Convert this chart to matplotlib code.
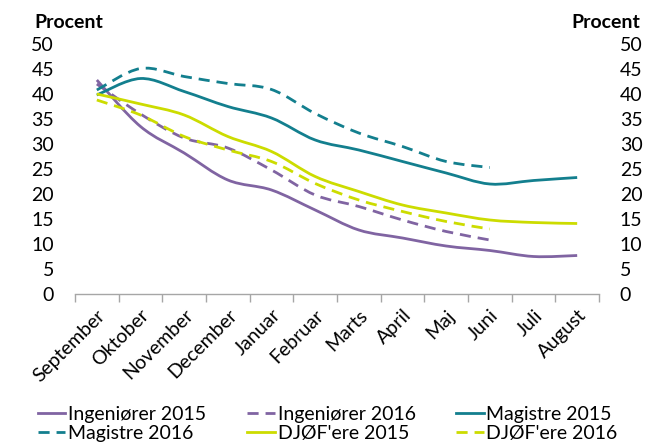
import matplotlib
matplotlib.use('Agg')
import matplotlib.pyplot as plt
import numpy as np
from matplotlib.path import Path
from matplotlib.patches import PathPatch
from matplotlib.lines import Line2D

plt.rcParams['font.family'] = ['Lato', 'DejaVu Sans']

months = ['September', 'Oktober', 'November', 'December', 'Januar', 'Februar',
          'Marts', 'April', 'Maj', 'Juni', 'Juli', 'August']

ing_2015 = [42.8, 33.5, 28.2, 22.8, 20.8, 16.8, 12.8, 11.2, 9.6, 8.7, 7.5, 7.7]
ing_2016 = [42.0, 36.0, 31.2, 29.2, 24.8, 19.8, 17.5, 14.8, 12.5, 10.8]
mag_2015 = [39.8, 43.1, 40.5, 37.5, 35.2, 30.8, 28.8, 26.5, 24.2, 22.0, 22.7, 23.3]
mag_2016 = [40.8, 45.1, 43.5, 42.1, 40.9, 36.1, 32.2, 29.5, 26.5, 25.3]
djo_2015 = [40.0, 38.0, 35.8, 31.5, 28.5, 23.5, 20.5, 17.8, 16.2, 14.8, 14.3, 14.1]
djo_2016 = [38.8, 35.8, 31.5, 28.8, 26.5, 22.1, 18.8, 16.5, 14.5, 13.0]

PURPLE = '#8064A2'
TEAL = '#137F8E'
YELLOW = '#CCDC00'
DASH = (0, (4.0, 2.5))

series = [
    ('Ingeniører 2015', ing_2015, PURPLE, '-'),
    ('Ingeniører 2016', ing_2016, PURPLE, DASH),
    ('Magistre 2015', mag_2015, TEAL, '-'),
    ('Magistre 2016', mag_2016, TEAL, DASH),
    ("DJØF'ere 2015", djo_2015, YELLOW, '-'),
    ("DJØF'ere 2016", djo_2016, YELLOW, DASH),
]


def smooth_path(xs, ys):
    # Excel-style smoothed line: cubic Bezier segments through the data points
    pts = np.column_stack([xs, ys]).astype(float)
    verts = [pts[0]]
    codes = [Path.MOVETO]
    n = len(pts)
    for i in range(n - 1):
        p0 = pts[i - 1] if i > 0 else pts[i]
        p1 = pts[i]
        p2 = pts[i + 1]
        p3 = pts[i + 2] if i + 2 < n else pts[i + 1]
        c1 = p1 + (p2 - p0) / 6.0
        c2 = p2 - (p3 - p1) / 6.0
        verts += [c1, c2, p2]
        codes += [Path.CURVE4] * 3
    return Path(verts, codes)


fig = plt.figure(figsize=(6.48, 4.42), dpi=100)
ax = fig.add_axes([75 / 648, 1 - 294 / 442, 524 / 648, 250 / 442])

handles = []
for label, vals, color, ls in series:
    xs = np.arange(len(vals))
    patch = PathPatch(smooth_path(xs, vals), fill=False, edgecolor=color,
                      linewidth=2.0, linestyle=ls, capstyle='butt')
    ax.add_patch(patch)
    handles.append(Line2D([], [], color=color, linewidth=2.0,
                          linestyle=ls, label=label))

ax.set_xlim(-0.5, len(months) - 0.5)
ax.set_ylim(0, 50)
for s in ['top', 'left', 'right']:
    ax.spines[s].set_visible(False)
ax.spines['bottom'].set_color('#A6A6A6')
ax.spines['bottom'].set_linewidth(1.0)

ax.set_xticks(np.arange(len(months)))
ax.set_xticklabels(months, rotation=45, ha='right', rotation_mode='anchor', fontsize=14)
ax.tick_params(axis='x', which='major', length=0, pad=9)
ax.set_xticks(np.arange(-0.5, len(months)), minor=True)
ax.tick_params(axis='x', which='minor', length=6, color='#A6A6A6', width=1.0)

yt = np.arange(0, 51, 5)
ax.set_yticks(yt)
ax.tick_params(axis='y', length=0, labelsize=14, pad=15)

ax2 = ax.twinx()
ax2.set_ylim(0, 50)
ax2.set_yticks(yt)
ax2.tick_params(axis='y', length=0, labelsize=14, pad=15)
for s in ['top', 'left', 'right', 'bottom']:
    ax2.spines[s].set_visible(False)

fig.text(69 / 648, 1 - 23 / 442, 'Procent', ha='center', va='center',
         fontsize=14, fontweight='bold')
fig.text(606 / 648, 1 - 23 / 442, 'Procent', ha='center', va='center',
         fontsize=14, fontweight='bold')

order = [0, 3, 1, 4, 2, 5]
fig.legend([handles[i] for i in order], [handles[i].get_label() for i in order],
           ncol=3, loc='center', bbox_to_anchor=(328 / 648, 1 - 424 / 442),
           frameon=False, fontsize=14, handlelength=1.4, handletextpad=0.15,
           columnspacing=2.1, labelspacing=0.1, borderpad=0)

fig.savefig('out.png', dpi=100)
